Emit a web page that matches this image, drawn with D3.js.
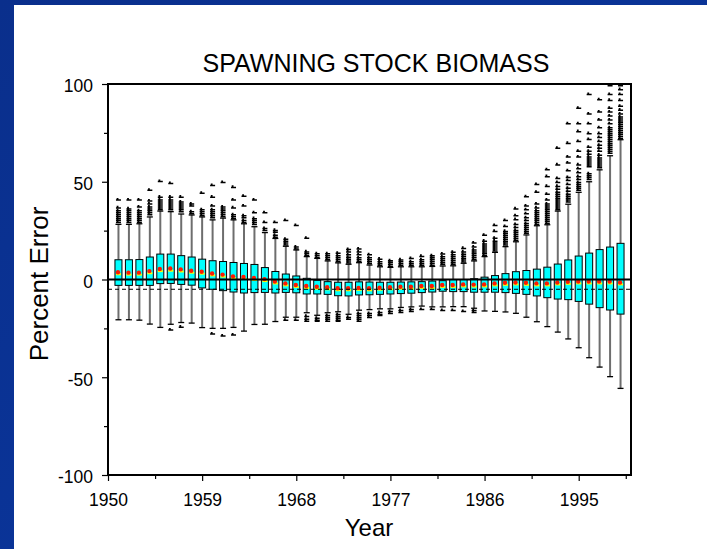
<!DOCTYPE html>
<html>
<head>
<meta charset="utf-8">
<script src="https://cdn.jsdelivr.net/npm/d3@7"></script>
<style>
  html, body { margin: 0; padding: 0; background: #ffffff; }
  svg { display: block; font-family: Arial, "Liberation Sans", sans-serif; }
</style>
</head>
<body>
<svg id="chart" width="707" height="549"></svg>
<script>
// Simulation years (one box per year)
const years = d3.range(1951, 2000);

// Box statistics, percent error
const q3 = [10.1, 10.1, 10.2, 11.5, 13.0, 13.0, 12.2, 11.5, 10.4, 9.6,
            9.2, 8.7, 8.2, 7.7, 6.1, 4.1, 2.8, 1.8, 0.6, -0.4,
            -1.1, -1.4, -1.4, -1.2, -1.3, -1.4, -1.4, -1.3, -1.2, -1.1,
            -0.8, -0.6, 0.0, 0.0, 0.4, 1.2, 2.0, 3.0, 4.0, 4.6,
            5.3, 6.3, 7.9, 10.0, 12.0, 13.5, 15.3, 16.6, 18.5];
const q1 = [-3.0, -3.0, -3.0, -3.0, -2.1, -2.0, -2.5, -2.9, -4.3, -5.0,
            -5.7, -6.4, -6.9, -6.7, -6.6, -6.9, -6.6, -6.8, -7.4, -7.4,
            -7.6, -8.3, -8.4, -7.9, -7.8, -7.6, -7.4, -7.2, -7.0, -6.7,
            -6.4, -6.0, -6.2, -6.2, -6.5, -6.5, -6.5, -6.7, -7.1, -7.6,
            -8.4, -9.3, -10.0, -10.3, -11.2, -12.6, -14.4, -15.6, -17.7];
const whiskerHigh = [28.2, 28.2, 28.5, 32.0, 35.0, 34.7, 33.5, 33.0, 32.0, 30.5,
                     31.4, 30.5, 28.5, 27.0, 24.0, 21.0, 17.0, 15.1, 11.7, 10.8,
                     9.5, 8.5, 7.8, 8.6, 7.4, 6.5, 6.2, 6.5, 6.5, 6.5,
                     6.7, 6.9, 7.0, 8.3, 9.5, 11.7, 13.9, 16.8, 19.3, 22.8,
                     27.5, 28.0, 35.0, 38.5, 44.6, 50.0, 56.1, 63.3, 71.5];
const whiskerLow = [-20.6, -20.6, -20.8, -22.8, -24.5, -22.9, -22.0, -22.3, -24.6, -25.0,
                    -25.0, -24.5, -26.4, -23.0, -22.9, -21.5, -19.3, -19.3, -17.0, -18.3,
                    -17.0, -16.5, -17.8, -15.7, -15.4, -15.0, -15.0, -14.3, -14.0, -13.6,
                    -14.0, -14.0, -13.9, -13.9, -14.7, -16.1, -16.3, -16.6, -17.3, -19.3,
                    -21.6, -24.1, -26.9, -30.4, -34.9, -40.0, -44.8, -49.7, -55.7];
const means = [3.7, 3.5, 3.5, 4.3, 5.4, 5.6, 5.2, 4.5, 4.0, 3.1,
               2.5, 1.6, 1.3, 0.8, 0.2, -1.0, -2.0, -2.8, -3.3, -3.7,
               -4.0, -4.5, -4.5, -4.3, -4.5, -4.2, -4.0, -3.7, -3.7, -3.3,
               -3.3, -2.8, -2.8, -2.5, -2.6, -2.5, -2.0, -1.7, -1.5, -1.7,
               -2.0, -2.0, -1.5, -1.2, -1.0, -1.0, -1.0, -1.0, -1.5];
const medians = [2.7, 2.5, 2.5, 3.2, 4.3, 4.5, 4.1, 3.5, 3.0, 2.1,
                 1.5, 0.6, 0.3, -0.2, -0.8, -2.0, -3.0, -3.8, -4.3, -4.7,
                 -5.0, -5.5, -5.5, -5.3, -5.5, -5.2, -5.0, -4.7, -4.7, -4.3,
                 -4.3, -3.8, -3.8, -3.5, -3.6, -3.5, -3.0, -2.7, -2.5, -2.7,
                 -3.0, -3.0, -2.5, -2.2, -2.0, -2.0, -2.0, -2.0, -2.5];

// Extreme values beyond the whiskers
const outliersHigh = [
  [29.5, 30.5, 31.5, 32.5, 33.5, 34.5, 35.5, 37, 41],
  [29.5, 30.5, 31.5, 32.5, 33.5, 34.5, 35.5, 36.5, 41],
  [29.5, 30.5, 31.5, 32.5, 33.5, 34.5, 35.5, 37.5, 41],
  [33.5, 34.5, 35.5, 36.5, 37.5, 39, 40.5, 46],
  [36, 37, 38, 39, 40, 41, 42.5, 50.5],
  [36, 37, 38, 39, 40, 41, 42.5, 49.5],
  [35, 36, 37, 38, 39, 40, 42.5],
  [34, 35, 38, 39],
  [33, 34, 35, 36, 44.5],
  [32, 33, 34, 35, 36, 38, 42.5, 48.5],
  [32.5, 33.5, 34.5, 35.5, 36.5, 37.5, 50],
  [31.5, 32.5, 33.5, 37, 41, 47.5],
  [29.5, 30.5, 32, 33, 38, 43],
  [28.5, 29.5, 30.5, 31.5, 34.5, 41],
  [25.5, 26.5, 29.5, 34.5],
  [22, 23, 24.5, 25.5, 29.5],
  [18, 19, 20, 21, 30.5],
  [16, 17, 28],
  [12.5, 13.5, 14.5, 21.5],
  [11.5, 12.5, 13.5],
  [10.5, 11.5, 12.5, 13.5],
  [9.5, 10.5, 11.5, 12.5, 13.8],
  [8.8, 9.8, 10.8, 11.8, 13, 14.5, 15.7],
  [9.5, 10.5, 11.5, 13, 14.5, 16],
  [8.5, 9.5, 10.5, 11.5, 13],
  [7.5, 8.5, 9.5, 10.8],
  [7.2, 8.2, 9.2, 10],
  [7.5, 8.5, 9.5, 10.4],
  [7.5, 8.5, 9.5, 11.1],
  [7.5, 8.5, 9.5, 10.5, 12.2],
  [7.7, 8.7, 9.7, 10.7, 11.7, 12.5],
  [8, 9, 10, 11, 12, 13.4],
  [8, 9, 10, 11, 12, 13, 14.3],
  [9.3, 10.3, 11.3, 12.3, 13.3, 14.5, 16.3],
  [10.5, 11.5, 12.5, 13.5, 14.5, 15.5, 17, 19],
  [12.5, 13.5, 14.5, 15.5, 16.5, 17.5, 18.5, 20, 23],
  [15, 16, 17, 18, 19, 20, 21.5, 25, 28],
  [18, 19, 20, 21, 22, 23, 24, 25, 27.5, 30.5],
  [20.5, 21.5, 22.5, 23.5, 24.5, 25.5, 27, 28.5, 31, 33, 36.5],
  [24, 25, 26, 27, 28, 29, 30.5, 32, 34, 36, 38, 42.7],
  [28.5, 29.5, 30.5, 31.5, 32.5, 33.5, 34.5, 35.5, 37, 39, 45, 49],
  [29, 30, 31, 32, 33, 34, 35, 36, 37, 38, 39, 41, 44, 48, 53, 56.5],
  [36, 37, 38, 39, 40, 41, 42, 43, 44, 45, 46.5, 48, 50, 52, 59, 67.5],
  [40, 41, 42, 43, 44, 45.5, 47, 49, 51, 52.5, 56, 60, 63, 70, 80],
  [46, 47, 48, 49, 50, 51.5, 53, 55, 57, 59, 63, 66, 71, 76, 80, 88],
  [51.5, 52.5, 53.5, 54.5, 58, 59, 60, 61, 62, 63, 64.5, 66, 68, 72, 75, 80, 85, 95],
  [57.5, 58.5, 59.5, 60.5, 61.5, 62.5, 64, 66, 67.5, 69, 71, 73, 75, 78, 82, 86, 92.3],
  [65, 66, 67, 68, 69, 70, 71, 72, 73, 74, 75, 76, 77, 78, 80, 82, 84, 86, 88, 92, 95, 99.5],
  [72.5, 73.5, 74.5, 75.5, 76.5, 77.5, 78.5, 79.5, 80.5, 81.5, 82.5, 83.5, 85, 87, 89, 92, 95, 97.5, 99.5]
];
const outliersLow = [
  [], [], [], [], [], [-25.5], [-24], [], [], [-27.5],
  [-28.5], [-28], [], [], [], [], [-20.5], [-20.5], [-18.5, -20, -21], [-19.5, -20.5, -21],
  [-18, -19, -20, -21], [-17.5, -18.5, -19.5, -20.5, -21], [-19, -20], [-17, -18, -19, -20, -21], [-17, -18, -19],
  [-16.5, -17.5, -18], [-16, -17], [-15.5, -16.5], [-15, -16], [-15],
  [-15], [-15.5], [-15.5], [-16], [-15.5, -16.5],
  [], [], [], [], [], [], [], [], [], [], [], [], [], []
];

// Axis ticks
const yearTicks = [1950, 1959, 1968, 1977, 1986, 1995];
const yearMinorTicks = [1954.5, 1963.5, 1972.5, 1981.5, 1990.5, 1999.5];
const percentTicks = [-100, -50, 0, 50, 100];
const percentMinorTicks = [-75, -25, 25, 75];
const biasLine = -5;

const svg = d3.select("#chart");
const W = 707, H = 549;
const plot = { left: 108, right: 631, top: 84, bottom: 475 };

// Slide backdrop: blue frame with white panel
const grad = svg.append("defs").append("linearGradient")
  .attr("id", "slideBlue").attr("x1", "0").attr("y1", "0").attr("x2", "1").attr("y2", "1");
grad.append("stop").attr("offset", "0").attr("stop-color", "#0a2f8c");
grad.append("stop").attr("offset", "1").attr("stop-color", "#0a38a2");
svg.append("rect").attr("width", W).attr("height", H).attr("fill", "url(#slideBlue)");
svg.append("rect").attr("x", 14).attr("y", 5).attr("width", W - 14).attr("height", H - 5).attr("fill", "#ffffff");

const x = d3.scaleLinear().domain([1950, 2000]).range([plot.left, plot.right]);
const y = d3.scaleLinear().domain([-100, 100]).range([plot.bottom, plot.top]);

// Axes (plain hyphen for negative labels)
const fmt = d => String(d);
const xAxis = svg.append("g").attr("transform", `translate(0,${plot.bottom})`)
  .call(d3.axisBottom(x).tickValues(yearTicks).tickSize(6).tickPadding(13).tickFormat(fmt));
const xMinor = svg.append("g").attr("transform", `translate(0,${plot.bottom})`)
  .call(d3.axisBottom(x).tickValues(yearMinorTicks).tickSize(4).tickFormat(""));
const yAxis = svg.append("g").attr("transform", `translate(${plot.left},0)`)
  .call(d3.axisLeft(y).tickValues(percentTicks).tickSize(6).tickPadding(9).tickFormat(fmt));
const yMinor = svg.append("g").attr("transform", `translate(${plot.left},0)`)
  .call(d3.axisLeft(y).tickValues(percentMinorTicks).tickSize(4).tickFormat(""));
[xAxis, xMinor, yAxis, yMinor].forEach(g => {
  g.select(".domain").remove();
  g.selectAll(".tick line").attr("stroke", "#000").attr("stroke-width", 1.2);
  g.selectAll(".tick text")
    .attr("fill", "#000")
    .style("font-family", "Arial, 'Liberation Sans', sans-serif")
    .style("font-size", "17.5px");
});
yAxis.selectAll(".tick text").attr("dy", "0.45em");

const stats = years.map((yr, i) => ({
  year: yr, q1: q1[i], q3: q3[i], lo: whiskerLow[i], hi: whiskerHigh[i],
  mean: means[i], median: medians[i], outHi: outliersHigh[i], outLo: outliersLow[i]
}));

const boxW = 7, capW = 6;
const g = svg.append("g");

// Whiskers
const groups = g.selectAll("g.yr").data(stats).join("g").attr("class", "yr")
  .attr("transform", d => `translate(${x(d.year)},0)`);
groups.append("line").attr("x1", 0).attr("x2", 0)
  .attr("y1", d => y(d.q3)).attr("y2", d => y(d.hi))
  .attr("stroke", "#6e6e6e").attr("stroke-width", 2);
groups.append("line").attr("x1", 0).attr("x2", 0)
  .attr("y1", d => y(d.q1)).attr("y2", d => y(d.lo))
  .attr("stroke", "#6e6e6e").attr("stroke-width", 2);
groups.append("line").attr("x1", -capW / 2).attr("x2", capW / 2)
  .attr("y1", d => y(d.hi)).attr("y2", d => y(d.hi))
  .attr("stroke", "#000").attr("stroke-width", 1.3);
groups.append("line").attr("x1", -capW / 2).attr("x2", capW / 2)
  .attr("y1", d => y(d.lo)).attr("y2", d => y(d.lo))
  .attr("stroke", "#000").attr("stroke-width", 1.3);

// Outlier marks
const mark = "M-2.5,0h5v1.5h-5z M-1.8,-1.3h1.8v1.3h-1.8z";
groups.selectAll("path.out")
  .data(d => d.outHi.concat(d.outLo))
  .join("path").attr("class", "out")
  .attr("d", mark)
  .attr("transform", v => `translate(0,${y(v)})`)
  .attr("fill", "#000");

// Boxes
groups.append("rect")
  .attr("x", -boxW / 2).attr("width", boxW)
  .attr("y", d => y(d.q3)).attr("height", d => y(d.q1) - y(d.q3))
  .attr("fill", "#00ffff").attr("stroke", "#000").attr("stroke-width", 1);

// Median and mean
groups.append("rect")
  .attr("x", -boxW / 2 + 1).attr("width", boxW - 2)
  .attr("y", d => y(d.median) - 1).attr("height", 2)
  .attr("fill", "#ffff00");
groups.append("circle")
  .attr("cx", -0.5).attr("cy", d => y(d.mean)).attr("r", 2.2)
  .attr("fill", "#ff1a00");

// Reference lines: zero and mean bias
svg.append("line").attr("x1", plot.left).attr("x2", plot.right)
  .attr("y1", y(0)).attr("y2", y(0)).attr("stroke", "#000").attr("stroke-width", 2.2);
svg.append("line").attr("x1", plot.left).attr("x2", plot.right)
  .attr("y1", y(biasLine)).attr("y2", y(biasLine)).attr("stroke", "#000")
  .attr("stroke-width", 1).attr("stroke-dasharray", "4,3");

// Plot frame
svg.append("rect").attr("x", plot.left).attr("y", plot.top)
  .attr("width", plot.right - plot.left).attr("height", plot.bottom - plot.top)
  .attr("fill", "none").attr("stroke", "#000").attr("stroke-width", 2);

// Titles
svg.append("text").attr("x", 376).attr("y", 72).attr("text-anchor", "middle")
  .style("font-size", "25px").attr("fill", "#000").text("SPAWNING STOCK BIOMASS");
svg.append("text").attr("x", 369).attr("y", 536).attr("text-anchor", "middle")
  .style("font-size", "24px").attr("fill", "#000").text("Year");
svg.append("text").attr("transform", "translate(48,284) rotate(-90)")
  .attr("text-anchor", "middle").style("font-size", "26px").attr("fill", "#000")
  .text("Percent Error");
</script>
</body>
</html>
